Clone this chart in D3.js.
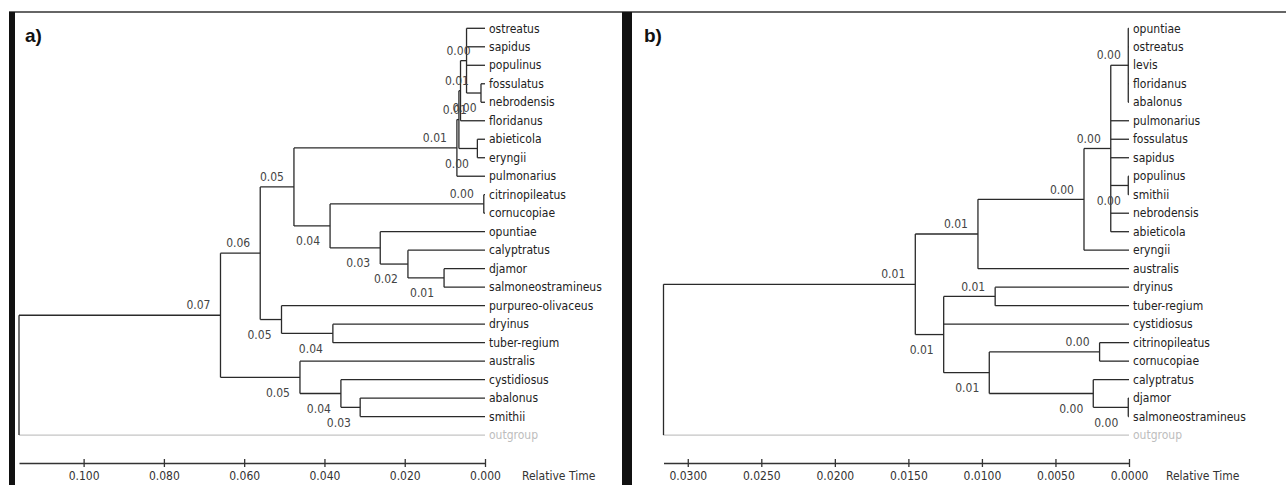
<!DOCTYPE html>
<html>
<head>
<meta charset="utf-8">
<script src="https://cdn.jsdelivr.net/npm/d3@7"></script>
<style>
body { margin: 0; background: #fff; }
svg { display: block; font-family: "DejaVu Sans Condensed", "Liberation Sans", sans-serif; }
</style>
</head>
<body>
<svg id="chart" width="1286" height="485"></svg>
<script>
// panel a: leaf order top to bottom
var leavesA = ["ostreatus", "sapidus", "populinus", "fossulatus", "nebrodensis", "floridanus",
  "abieticola", "eryngii", "pulmonarius", "citrinopileatus", "cornucopiae", "opuntiae",
  "calyptratus", "djamor", "salmoneostramineus", "purpureo-olivaceus", "dryinus",
  "tuber-regium", "australis", "cystidiosus", "abalonus", "smithii", "outgroup"];

// internal nodes: [id, relative time, children]
var nodesA = [
  ["root", 0.1161, ["T", "outgroup"]],
  ["T", 0.0659, ["R", "U"]],
  ["R", 0.0560, ["P", "S"]],
  ["P", 0.0476, ["N3", "Q"]],
  ["N3", 0.0070, ["K", "pulmonarius"]],
  ["K", 0.0065, ["N2", "AE"]],
  ["N2", 0.0061, ["N1", "floridanus"]],
  ["N1", 0.0046, ["ostreatus", "sapidus", "populinus", "FN"]],
  ["FN", 0.0010, ["fossulatus", "nebrodensis"]],
  ["AE", 0.0019, ["abieticola", "eryngii"]],
  ["Q", 0.0386, ["CC", "V"]],
  ["CC", 0.0003, ["citrinopileatus", "cornucopiae"]],
  ["V", 0.0261, ["opuntiae", "W"]],
  ["W", 0.0192, ["calyptratus", "X"]],
  ["X", 0.0102, ["djamor", "salmoneostramineus"]],
  ["S", 0.0507, ["purpureo-olivaceus", "Y"]],
  ["Y", 0.0379, ["dryinus", "tuber-regium"]],
  ["U", 0.0461, ["australis", "Z"]],
  ["Z", 0.0359, ["cystidiosus", "AA"]],
  ["AA", 0.0311, ["abalonus", "smithii"]]
];
var ticksA = [0.100, 0.080, 0.060, 0.040, 0.020, 0.000];

// panel b
var leavesB = ["opuntiae", "ostreatus", "levis", "floridanus", "abalonus", "pulmonarius",
  "fossulatus", "sapidus", "populinus", "smithii", "nebrodensis", "abieticola", "eryngii",
  "australis", "dryinus", "tuber-regium", "cystidiosus", "citrinopileatus", "cornucopiae",
  "calyptratus", "djamor", "salmoneostramineus", "outgroup"];

var nodesB = [
  ["root", 0.03165, ["B4", "outgroup"]],
  ["B4", 0.01453, ["B3", "B5"]],
  ["B3", 0.01027, ["B2", "australis"]],
  ["B2", 0.00306, ["B1", "eryngii"]],
  ["B1", 0.00124, ["P1", "pulmonarius", "fossulatus", "sapidus", "PS", "nebrodensis", "abieticola"]],
  ["P1", 0.00005, ["opuntiae", "ostreatus", "levis", "floridanus", "abalonus"]],
  ["PS", 0.00005, ["populinus", "smithii"]],
  ["B5", 0.0126, ["DT", "cystidiosus", "C2"]],
  ["DT", 0.0091, ["dryinus", "tuber-regium"]],
  ["C2", 0.0095, ["CN", "CD"]],
  ["CN", 0.0020, ["citrinopileatus", "cornucopiae"]],
  ["CD", 0.00243, ["calyptratus", "DS"]],
  ["DS", 0.00005, ["djamor", "salmoneostramineus"]]
];
var ticksB = [0.0300, 0.0250, 0.0200, 0.0150, 0.0100, 0.0050, 0.0000];

var svg = d3.select("#chart");
var rowTop = 28.3, rowBottom = 435.1, axisY = 463;

// frame
svg.append("line").attr("x1", 9).attr("x2", 1286).attr("y1", 12).attr("y2", 12)
  .attr("stroke", "#333").attr("stroke-width", 1.5);
svg.append("rect").attr("x", 9).attr("y", 12).attr("width", 6).attr("height", 473).attr("fill", "#111");
svg.append("rect").attr("x", 622).attr("y", 12).attr("width", 10).attr("height", 473).attr("fill", "#111");

function buildTree(nodes) {
  var byId = {};
  nodes.forEach(function(n) { byId[n[0]] = n; });
  function make(name) {
    var n = byId[name];
    if (!n) return { name: name, age: 0 };
    return { name: name, age: n[1], children: n[2].map(make) };
  }
  return d3.hierarchy(make(nodes[0][0]));
}

function drawTree(leaves, nodes, ticks, xRange, fmt, panelName, panelX) {
  var g = svg.append("g");
  var root = buildTree(nodes);
  var x = d3.scaleLinear().domain([root.data.age, 0]).range(xRange);
  var y = d3.scalePoint().domain(leaves).range([rowTop, rowBottom]);

  root.eachAfter(function(d) {
    d.x = x(d.data.age);
    if (d.children) d.y = (d.children[0].y + d.children[d.children.length - 1].y) / 2;
    else d.y = y(d.data.name);
  });

  var all = root.descendants();

  g.selectAll(".hbranch")
    .data(all.filter(function(d) { return d.parent; }))
    .enter().append("path")
    .attr("d", function(d) { return "M" + d.parent.x + "," + d.y + "H" + d.x; })
    .attr("stroke", function(d) { return d.data.name == "outgroup" ? "#c4c4c4" : "#2a2a2a"; })
    .attr("stroke-width", 1.3).attr("fill", "none");

  g.selectAll(".vbranch")
    .data(all.filter(function(d) { return d.children; }))
    .enter().append("path")
    .attr("d", function(d) {
      return "M" + d.x + "," + d.children[0].y + "V" + d.children[d.children.length - 1].y;
    })
    .attr("stroke", "#2a2a2a").attr("stroke-width", 1.3).attr("fill", "none");

  // divergence times
  g.selectAll(".time")
    .data(all.filter(function(d) { return d.children && d.parent; }))
    .enter().append("text")
    .attr("x", function(d) { return Math.max(d.x - 10, d.parent.x + 10); })
    .attr("y", function(d) { return d.parent.children[0] === d ? d.y - 10 : d.y + 15; })
    .attr("dy", "0.35em")
    .attr("text-anchor", "end")
    .attr("font-size", 12).attr("fill", "#444")
    .text(function(d) { return d.data.age.toFixed(2); });

  g.selectAll(".leaf")
    .data(root.leaves())
    .enter().append("text")
    .attr("x", xRange[1] + 4)
    .attr("y", function(d) { return d.y; })
    .attr("dy", "0.35em")
    .attr("font-size", 12)
    .attr("fill", function(d) { return d.data.name == "outgroup" ? "#bdbdbd" : "#222"; })
    .text(function(d) { return d.data.name; });

  var ax = g.append("g").attr("transform", "translate(0," + axisY + ")")
    .call(d3.axisBottom(x).tickValues(ticks).tickFormat(d3.format(fmt)).tickSize(4).tickSizeOuter(0));
  ax.attr("font-family", null).attr("font-size", 12);
  ax.select(".domain").attr("stroke", "#333").attr("stroke-width", 1.3);
  ax.selectAll(".tick line").attr("y1", -4).attr("y2", 4).attr("stroke", "#333").attr("stroke-width", 1.3);
  ax.selectAll(".tick text").attr("y", 17).attr("dy", 0).attr("fill", "#333");

  g.append("text").attr("x", xRange[1] + 37).attr("y", axisY + 17)
    .attr("font-size", 12).attr("fill", "#333").text("Relative Time");

  g.append("text").attr("x", panelX).attr("y", 42)
    .attr("font-family", "Liberation Sans, Arial, sans-serif")
    .attr("font-size", 19).attr("font-weight", "bold").attr("fill", "#111")
    .text(panelName);
}

drawTree(leavesA, nodesA, ticksA, [19, 485], ".3f", "a)", 25);
drawTree(leavesB, nodesB, ticksB, [663.5, 1129], ".4f", "b)", 644);
</script>
</body>
</html>
